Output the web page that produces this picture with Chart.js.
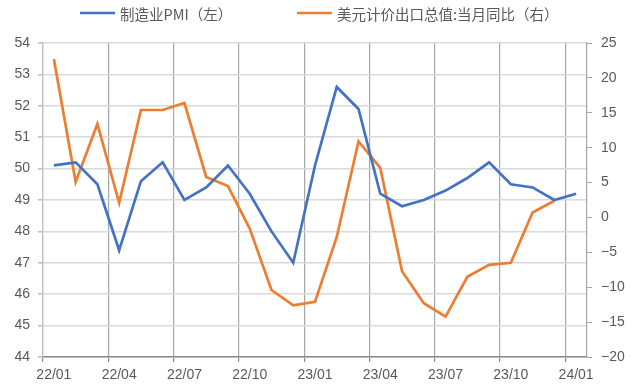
<!DOCTYPE html>
<html>
<head>
<meta charset="utf-8">
<script src="https://cdn.jsdelivr.net/npm/chart.js@4/dist/chart.umd.min.js"></script>
<style>
  html, body { margin: 0; padding: 0; background: #ffffff; }
  #wrap { width: 636px; height: 388px; }
</style>
</head>
<body>
<div id="wrap"><canvas id="chart" width="636" height="388"></canvas></div>
<script>
// Monthly categories, 2022/01 – 2024/01
const months = ['22/01','22/02','22/03','22/04','22/05','22/06','22/07','22/08','22/09','22/10','22/11','22/12',
                '23/01','23/02','23/03','23/04','23/05','23/06','23/07','23/08','23/09','23/10','23/11','23/12',
                '24/01'];

// Manufacturing PMI (left axis)
const pmi = [50.1, 50.2, 49.5, 47.4, 49.6, 50.2, 49.0, 49.4, 50.1, 49.2, 48.0, 47.0,
             50.1, 52.6, 51.9, 49.2, 48.8, 49.0, 49.3, 49.7, 50.2, 49.5, 49.4, 49.0,
             49.2];

// Exports in USD, year-on-year % (right axis)
const exportYoY = [22.7, 5.1, 13.4, 2.1, 15.4, 15.4, 16.4, 5.8, 4.5, -1.6, -10.4, -12.6,
                   -12.1, -2.8, 10.9, 7.1, -7.7, -12.3, -14.2, -8.5, -6.8, -6.5, 0.7, 2.4,
                   null];

const seriesNames = ['制造业PMI（左）', '美元计价出口总值:当月同比（右）'];

// Axis tick values
const leftTicks = { min: 44, max: 54, step: 1 };
const rightTicks = { min: -20, max: 25, step: 5 };
const labelEvery = 3;

// Fixed plot box: left axis 43px wide, right axis 49px wide
const LEFT_W = 43, RIGHT_W = 49, CANVAS_W = 636;
const halfSlot = (CANVAS_W - LEFT_W - RIGHT_W) / months.length / 2;

const TICK_FONT = { family: '"Liberation Sans", Arial, sans-serif', size: 14 };
const TEXT_GREY = '#595959';

const toPoints = arr => arr.map((v, i) => ({ x: i, y: v }));

// Legend drawn as a line sample followed by the series name
const seriesKey = {
  id: 'seriesKey',
  afterDraw(chart) {
    const ctx = chart.ctx;
    const starts = [80, 297];
    const y = 13;
    chart.data.datasets.forEach((ds, i) => {
      const x = starts[i];
      ctx.save();
      ctx.strokeStyle = ds.borderColor;
      ctx.lineWidth = 2.5;
      ctx.beginPath();
      ctx.moveTo(x, y);
      ctx.lineTo(x + 35, y);
      ctx.stroke();
      ctx.fillStyle = TEXT_GREY;
      ctx.font = '14.5px "Noto Sans CJK SC", sans-serif';
      ctx.textBaseline = 'middle';
      ctx.textAlign = 'left';
      ctx.fillText(ds.label, x + 40, y + 1);
      ctx.restore();
    });
  }
};

new Chart(document.getElementById('chart'), {
  type: 'line',
  data: {
    datasets: [
      {
        label: seriesNames[0],
        data: toPoints(pmi),
        yAxisID: 'y',
        borderColor: '#4472C4',
        backgroundColor: '#4472C4',
        borderWidth: 2.7,
        pointRadius: 0,
        tension: 0
      },
      {
        label: seriesNames[1],
        data: toPoints(exportYoY),
        yAxisID: 'y2',
        borderColor: '#ED7D31',
        backgroundColor: '#ED7D31',
        borderWidth: 2.7,
        pointRadius: 0,
        tension: 0
      }
    ]
  },
  options: {
    responsive: false,
    animation: false,
    layout: { padding: { top: 43, left: 0, right: 0, bottom: 0 } },
    plugins: {
      legend: { display: false },
      tooltip: { enabled: false }
    },
    scales: {
      x: {
        type: 'linear',
        min: -0.5,
        max: months.length - 0.5,
        // grid lines sit on the month boundaries; labels are centred on the month
        afterBuildTicks(scale) {
          scale.ticks = months
            .map((m, i) => i)
            .filter(i => i % labelEvery === 0)
            .map(i => ({ value: i - 0.5 }));
        },
        afterFit(scale) { scale.height = 31; },
        ticks: {
          autoSkip: false,
          maxRotation: 0,
          padding: 5,
          labelOffset: halfSlot,
          color: TEXT_GREY,
          font: TICK_FONT,
          callback: v => months[Math.round(v + 0.5)]
        },
        grid: {
          color: '#a6a6a6',
          lineWidth: 1.2,
          tickLength: 5,
          tickColor: '#8c8c8c'
        },
        border: { color: '#8c8c8c', width: 1.6 }
      },
      y: {
        position: 'left',
        min: leftTicks.min,
        max: leftTicks.max,
        afterFit(scale) { scale.width = LEFT_W; },
        ticks: {
          stepSize: leftTicks.step,
          padding: 8,
          color: TEXT_GREY,
          font: TICK_FONT
        },
        grid: {
          color: '#d9d9d9',
          lineWidth: 1.6,
          tickLength: 5,
          tickColor: '#bfbfbf'
        },
        border: { color: '#bfbfbf', width: 1.2 }
      },
      y2: {
        position: 'right',
        min: rightTicks.min,
        max: rightTicks.max,
        afterFit(scale) { scale.width = RIGHT_W; },
        ticks: {
          stepSize: rightTicks.step,
          padding: 9,
          color: TEXT_GREY,
          font: TICK_FONT,
          callback: v => (v < 0 ? '\u2212' + Math.abs(v) : String(v))
        },
        grid: {
          drawOnChartArea: false,
          tickLength: 5,
          tickColor: '#a6a6a6'
        },
        border: { color: '#a6a6a6', width: 1.2 }
      }
    }
  },
  plugins: [seriesKey]
});
</script>
</body>
</html>
